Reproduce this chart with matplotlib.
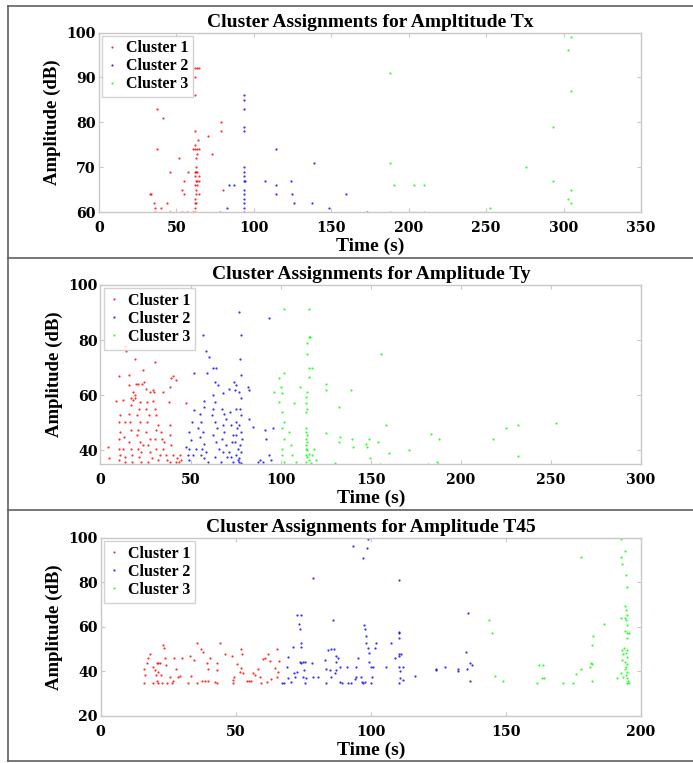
import matplotlib
matplotlib.use('Agg')
from matplotlib import pyplot as plt
from matplotlib.lines import Line2D

# ---- Tx ----
tx_c1_t = [33, 34, 35.7, 36.6, 36.4, 37.9, 37.9, 41.5, 40, 44, 45.8, 46, 51.9, 54, 55, 55, 53.5, 57.5, 57,
           60.9, 61.8, 62.2, 63.5, 64.4, 62.3, 61.8, 64, 62.3, 62.3, 63.5, 64.5, 63.7, 63, 62.5, 62.8, 61.8,
           63.7, 62.3, 65, 62.5, 63.3, 64.5, 62.3, 63.3, 62.5, 62.8, 65, 62.3, 62.5, 61.8, 62.2, 61, 62,
           70.6, 73, 78.8, 78.8, 80.3, 78.5]
tx_c1_a = [64, 64, 62, 61, 60, 83, 74, 81, 61, 62, 69, 60, 72, 65, 67, 64, 60, 69, 60,
           74, 90, 92, 92, 92, 86, 78, 76, 75, 74, 74, 74, 73, 72, 70, 69, 69,
           69, 68, 68, 67, 67, 67, 66, 66, 65, 64, 64, 63, 62, 62, 61, 60, 60,
           77, 73, 80, 78, 65, 60]
tx_c2_t = [83, 84, 87.4, 93.6, 93.6, 93.6, 93.6, 93.6, 93.6, 93.6, 93.6, 93.6, 94.5, 93.6, 93.6, 93.6, 93.6,
           93.6, 93.6, 107.2, 114.3, 114.3, 114.3, 124, 125, 126, 137.7, 138.8, 148.5, 159.7, 173.3]
tx_c2_a = [61, 66, 66, 86, 85, 83, 79, 78, 70, 69, 68, 67, 67, 65, 64, 63, 62,
           61, 60, 67, 74, 66, 64, 67, 64, 62, 62, 71, 61, 64, 60]
tx_c3_t = [188, 188, 188, 190.7, 203.4, 209.7, 209.7, 252.3, 276, 293.2, 293.2, 304.8, 302.9, 304.8, 305, 303, 305]
tx_c3_a = [91, 71, 60, 66, 66, 66, 60, 61, 70, 79, 67, 99, 96, 87, 65, 63, 62]

# ---- Ty ----
ty_c1_t = [4.3, 4.7, 8.6, 10.4, 10.8, 10.4, 11.1, 10.4, 10.0, 10.8, 10.4, 13.5, 13.9, 12.6, 13.4, 13.2, 12.6,
           13.4, 13.5, 15.9, 15.9, 16.7, 15.7, 16.3, 16.7, 15.9, 16.7, 17.6, 17.4, 17.2, 18.1, 19.1, 18.1,
           19.4, 19.4, 19.6, 20.9, 23.3, 24.0, 23.7, 21.8, 21.5, 20.2, 21.8, 20.9, 20.0, 21.8, 20.9, 22.7,
           23.7, 21.5, 22.7, 25.5, 27.3, 25.9, 25.5, 27.0, 25.9, 25.1, 27.3, 26.6, 27.3, 26.6, 28.5, 30.1,
           29.2, 29.7, 29.2, 30.1, 31.0, 32.0, 31.0, 30.1, 31.0, 32.9, 32.0, 34.9, 33.8, 34.3, 35.1, 34.7,
           36.2, 36.9, 38.4, 39.3, 40.2, 38.4, 38.0, 38.4, 38.8, 39.3, 40.2, 41.7, 42.5, 43.6, 41.7, 43.9,
           44.8, 47.2]
ty_c1_a = [41.2, 37.0, 57.8, 67.0, 52.7, 50.3, 46.7, 44.2, 40.6, 38.2, 36.4, 77.9, 76.0, 58.1, 50.3, 44.9, 40.6,
           37.6, 35.8, 67.3, 63.6, 56.4, 53.3, 50.3, 47.3, 43.0, 40.6, 38.2, 35.8, 58.8, 58.2, 60.0, 61.2,
           58.8, 73.0, 64.2, 63.9, 64.2, 64.9, 69.0, 57.6, 55.1, 52.7, 50.3, 47.3, 45.5, 43.0, 40.6, 39.4,
           41.8, 37.6, 35.8, 62.4, 61.2, 57.6, 55.1, 52.7, 50.3, 46.7, 44.2, 41.8, 39.4, 35.8, 37.0, 71.9,
           61.8, 61.2, 57.8, 55.1, 52.7, 49.1, 47.3, 44.2, 40.6, 38.2, 36.4, 61.0, 46.7, 44.2, 43.0, 40.6,
           38.2, 36.4, 35.8, 66.4, 67.0, 63.0, 57.6, 49.1, 45.5, 41.8, 38.2, 35.8, 37.2, 35.8, 65.5, 38.2,
           36.4, 57.0]
ty_c2_t = [47.6, 48.5, 49.4, 50.4, 49.4, 50.9, 51.8, 51.8, 56.8, 58.7, 60.1, 59.0, 57.2, 57.7, 55.0, 55.9,
           54.1, 56.8, 55.0, 57.7, 56.4, 58.7, 55.9, 57.7, 59.6, 53.1, 51.3, 49.4, 62.7, 64.2, 63.3, 65.1,
           62.3, 63.8, 62.7, 62.0, 63.3, 64.5, 62.7, 64.2, 66.0, 63.3, 66.9, 67.9, 67.5, 68.8, 69.7, 67.9,
           68.8, 67.5, 69.7, 68.2, 70.1, 71.2, 71.9, 72.5, 73.4, 73.0, 71.5, 72.5, 73.8, 74.3, 75.2, 74.5,
           75.2, 75.2, 75.6, 75.2, 74.9, 76.2, 75.2, 76.2, 76.7, 77.1, 77.6, 78.0, 78.0, 77.1, 78.0, 77.4,
           78.0, 77.1, 78.2, 78.5, 77.4, 78.2, 77.1, 78.0, 81.7, 82.2, 82.6, 84.8, 87.2, 88.5, 90.0, 91.4,
           91.8, 93.6, 93.6, 94.6, 96.0]
ty_c2_a = [41.2, 38.2, 40.6, 43.6, 46.7, 50.3, 54.5, 67.9, 81.8, 76.0, 73.9, 67.9, 57.8, 55.8, 53.3, 50.3,
           47.9, 46.7, 44.9, 42.4, 40.6, 39.4, 38.2, 37.0, 35.8, 40.6, 38.2, 36.4, 69.9, 69.9, 64.9, 63.6,
           60.0, 57.6, 55.1, 52.7, 50.3, 47.9, 45.5, 43.0, 40.6, 37.6, 35.8, 60.6, 55.1, 53.3, 51.5, 49.1,
           46.7, 44.2, 41.8, 39.4, 37.6, 62.4, 53.9, 49.1, 45.5, 43.0, 39.4, 37.6, 35.8, 64.9, 63.6, 61.8,
           55.1, 50.3, 47.9, 45.5, 43.0, 40.6, 38.2, 36.4, 35.8, 90.1, 73.0, 81.8, 67.3, 61.2, 58.8, 55.1,
           52.7, 49.1, 46.7, 44.2, 41.8, 39.4, 37.0, 35.2, 62.9, 61.8, 51.5, 48.5, 35.8, 36.4, 35.8, 47.3,
           44.2, 87.9, 38.2, 36.4, 47.9]
ty_c3_t = [101.6, 115.7, 114.8, 115.7, 116.3, 114.5, 115.7, 117.6, 101.6, 99.2, 100.1, 101.0, 96.4, 110.6,
           115.7, 114.8, 114.3, 113.9, 114.8, 114.3, 99.2, 100.6, 101.9, 101.0, 101.9, 100.6, 101.0, 101.9,
           107.5, 104.7, 105.6, 106.5, 108.4, 113.9, 114.3, 114.8, 113.9, 114.8, 114.3, 113.9, 114.8, 115.7,
           113.9, 114.8, 115.7, 113.9, 116.7, 118.5, 117.6, 119.4, 125.3, 125.0, 125.3, 130.1, 132.3, 133.2,
           132.3, 139.3, 139.7, 140.1, 147.1, 148.0, 149.3, 149.8, 154.1, 155.7, 158.7, 160.0, 155.3, 171.0,
           183.3, 187.9, 182.0, 186.6, 187.5, 217.6, 225.3, 231.8, 231.8, 252.9]
ty_c3_a = [91.2, 91.2, 78.8, 81.0, 81.0, 74.9, 69.7, 69.7, 67.9, 66.1, 63.0, 60.6, 61.0, 63.0,
           66.7, 61.2, 59.4, 57.0, 55.1, 53.9, 57.6, 53.9, 50.3, 47.9, 44.2, 40.6, 38.2, 35.8,
           57.0, 46.7, 41.8, 38.2, 35.8, 47.9, 46.7, 45.5, 44.2, 43.0, 41.8, 40.6, 40.0, 38.8,
           38.2, 37.6, 36.4, 35.8, 35.2, 40.6, 38.2, 36.4, 64.2, 61.8, 46.1, 35.2, 55.8, 44.9,
           43.0, 61.8, 44.2, 41.2, 42.4, 41.2, 44.2, 37.0, 43.0, 74.9, 49.1, 38.9, 35.0, 40.0,
           46.0, 44.0, 35.0, 35.9, 35.0, 44.0, 47.9, 49.0, 38.0, 50.0]

# ---- T45 ----
t45_c1_t = [16.0, 16.4, 16.0, 17.0, 17.6, 18.3, 19.5, 20.1, 20.7, 21.3, 22.0, 19.2, 20.7, 21.3, 22.6, 20.5,
            21.3, 22.2, 23.2, 23.4, 23.8, 24.2, 25.6, 26.9, 24.7, 26.3, 27.1, 27.9, 28.7, 29.3, 30.1, 33.0,
            33.6, 32.4, 35.5, 34.5, 35.7, 37.1, 38.0, 37.7, 38.6, 39.8, 39.2, 39.8, 40.4, 42.3, 42.9, 44.1,
            43.1, 42.9, 46.0, 48.8, 49.0, 49.0, 49.3, 50.3, 51.5, 52.1, 52.7, 52.1, 52.4, 54.0, 55.0, 55.8,
            56.4, 57.1, 58.3, 58.9, 59.5, 60.1, 60.8, 61.4, 62.0, 62.6, 63.2, 64.4, 65.1, 65.7, 65.3, 66.0]
t45_c1_a = [41.0, 38.4, 35.0, 43.7, 45.9, 47.9, 42.2, 40.7, 43.7, 44.0, 43.7, 35.0, 35.9, 35.0, 35.0, 38.4,
            39.9, 38.4, 51.9, 50.4, 45.9, 42.9, 37.7, 35.9, 35.0, 35.0, 46.2, 41.0, 37.7, 38.0, 45.9, 47.0,
            38.0, 35.0, 35.0, 45.2, 53.0, 50.1, 48.9, 35.9, 35.9, 35.9, 44.0, 41.0, 46.2, 35.4, 35.0, 53.0,
            44.0, 40.7, 47.9, 47.0, 36.2, 35.0, 37.7, 43.2, 39.9, 41.4, 39.2, 50.0, 47.9, 35.9, 35.9, 35.9,
            39.5, 38.4, 41.0, 37.7, 35.0, 45.5, 45.9, 35.4, 47.9, 44.9, 36.5, 41.4, 37.7, 39.9, 50.0, 44.9]
t45_c2_t = [67.3, 67.8, 68.8, 69.4, 69.4, 70.6, 71.2, 71.5, 71.8, 72.5, 72.5, 74.0, 73.4, 73.7, 74.3, 74.0,
            73.7, 74.3, 75.0, 75.5, 75.2, 75.0, 75.5, 76.1, 78.4, 78.6, 78.6, 80.5, 82.9, 83.5, 84.2, 84.8,
            85.4, 86.0, 86.2, 83.3, 85.4, 86.6, 87.2, 87.9, 87.2, 88.5, 87.2, 88.5, 89.5, 91.0, 91.5, 92.8,
            93.4, 94.0, 94.6, 95.2, 94.6, 97.1, 96.5, 96.8, 97.1, 97.7, 97.3, 97.7, 98.3, 98.9, 98.7, 98.3,
            98.9, 99.3, 99.5, 100.2, 100.5, 100.8, 100.2, 101.4, 102.0, 105.7, 107.6, 108.8, 110.6, 110.4,
            110.4, 110.4, 110.6, 111.0, 110.4, 110.4, 111.9, 110.8, 111.9, 110.8, 110.4, 116.4, 124.0, 124.2,
            127.3, 132.2, 132.2, 135.2, 135.5, 135.9, 136.8, 137.3, 136.8]
t45_c2_a = [35.0, 35.0, 42.2, 46.7, 36.9, 35.4, 51.2, 39.2, 37.7, 39.9, 65.4, 65.4, 61.4, 59.0, 53.0, 51.2,
            44.4, 44.0, 44.4, 44.4, 40.7, 37.7, 35.0, 36.9, 43.7, 37.7, 82.2, 37.7, 45.2, 41.0, 49.7, 40.7,
            50.0, 63.2, 50.0, 35.0, 37.7, 39.2, 47.0, 45.9, 44.4, 42.2, 40.7, 35.4, 35.0, 42.2, 35.0, 35.0,
            96.4, 36.5, 37.7, 45.9, 42.2, 91.2, 37.7, 35.4, 35.0, 35.4, 60.9, 59.0, 56.0, 99.4, 95.4, 52.7,
            50.4, 48.5, 44.4, 42.2, 37.7, 42.2, 35.0, 50.4, 52.7, 42.2, 53.0, 46.0, 81.1, 57.9,
            57.2, 55.2, 47.9, 47.9, 47.0, 42.2, 42.2, 40.0, 36.0, 37.0, 35.0, 38.0, 41.0, 40.5,
            42.2, 41.0, 40.3, 48.9, 41.0, 66.1, 43.9, 43.0, 35.9]
t45_c3_t = [143.7, 144.9, 145.8, 148.8, 161.4, 162.4, 163.9, 163.2, 164.2, 171.0, 175.0, 176.0, 177.7, 177.8,
            181.1, 181.5, 181.8, 181.8, 181.8, 182.3, 186.2, 191.1, 192.7, 192.7, 192.9, 192.7, 192.8, 193.2,
            193.0, 192.6, 193.5, 194.2, 194.4, 194.7, 194.2, 194.4, 194.7, 194.2, 194.4, 194.7, 194.2, 194.9,
            194.7, 195.4, 193.8, 194.7, 194.4, 194.8, 194.2, 194.7, 194.4, 194.2, 194.9, 194.4, 194.7, 195.1,
            194.7, 195.4]
t45_c3_a = [63.2, 57.2, 38.0, 35.9, 35.0, 42.9, 42.9, 36.9, 36.9, 35.0, 35.0, 38.9, 91.3, 41.0,
            42.2, 44.0, 43.2, 35.9, 51.9, 56.0, 61.2, 36.9, 99.4, 91.3, 88.3, 63.9, 49.7, 47.9,
            45.2, 39.2, 37.7, 94.3, 83.4, 78.1, 69.4, 67.6, 65.4, 63.9, 63.2, 60.9, 58.4, 57.2,
            55.2, 57.2, 50.4, 49.7, 48.2, 46.7, 44.4, 43.4, 42.2, 41.0, 39.9, 38.4, 36.9, 35.9,
            35.0, 35.0]

titles = ['Cluster Assignments for Ampltitude Tx',
          'Cluster Assignments for Amplitude Ty',
          'Cluster Assignments for Amplitude T45']
labels = ['Cluster 1', 'Cluster 2', 'Cluster 3']
colors = ['#ff0000', '#0000ff', '#00ff00']

panels = [
    [(tx_c1_t, tx_c1_a), (tx_c2_t, tx_c2_a), (tx_c3_t, tx_c3_a)],
    [(ty_c1_t, ty_c1_a), (ty_c2_t, ty_c2_a), (ty_c3_t, ty_c3_a)],
    [(t45_c1_t, t45_c1_a), (t45_c2_t, t45_c2_a), (t45_c3_t, t45_c3_a)],
]
xlims = [(0, 350), (0, 300), (0, 200)]
ylims = [(60, 100), (35, 100), (20, 100)]
yticks = [[60, 70, 80, 90, 100], [40, 60, 80, 100], [20, 40, 60, 80, 100]]

# axes boxes in figure fraction (left, bottom, width, height)
boxes = [(0.1425, 0.7221, 0.7825, 0.2353),
         (0.1450, 0.3919, 0.7800, 0.2346),
         (0.1452, 0.0616, 0.7798, 0.2333)]

serif = 'Liberation Serif'

fig = plt.figure(figsize=(6.93, 7.63), dpi=100)

for i in range(3):
    ax = fig.add_axes(boxes[i])
    for (t, a), lab, c in zip(panels[i], labels, colors):
        ax.plot(t, a, '.', color=c, ms=3.2, mew=0, alpha=0.8, label=lab)
    ax.set_xlim(*xlims[i])
    ax.set_ylim(*ylims[i])
    ax.set_xticks(range(xlims[i][0], xlims[i][1] + 1, 50))
    ax.set_yticks(yticks[i])
    for s in ax.spines.values():
        s.set_color('#c8c8c8')
        s.set_linewidth(1.0)
    ax.tick_params(direction='in', top=True, right=True, color='#c8c8c8', length=3, labelcolor='black')
    ax.tick_params(axis='x', pad=6.5)
    ax.tick_params(axis='y', pad=2)
    for lbl in ax.get_xticklabels() + ax.get_yticklabels():
        lbl.set_fontfamily('DejaVu Serif')
        lbl.set_fontweight('bold')
        lbl.set_fontsize(10.2)
    ax.set_title(titles[i], pad=4, family=serif, weight='bold', size=14)
    ax.set_xlabel('Time (s)', labelpad=2, family=serif, weight='bold', size=14)
    ax.set_ylabel('Amplitude (dB)', labelpad=4, family=serif, weight='bold', size=13.5)
    leg = ax.legend(loc='upper left', fancybox=False, edgecolor='#c8c8c8', markerscale=1.0,
                    handlelength=0.7, handletextpad=0.5, borderaxespad=0.2, labelspacing=0.12,
                    borderpad=0.3, prop=dict(family=serif, weight='bold', size=11.5))
    leg.get_frame().set_linewidth(1.0)

# panel frames
H = 763.0
W = 693.0
for y in [6, 258.5, 510, 761]:
    fig.add_artist(Line2D([8 / W, 1], [1 - y / H, 1 - y / H], color='#606060', lw=1.2))
fig.add_artist(Line2D([8 / W, 8 / W], [1 - 6 / H, 1 - 761 / H], color='#606060', lw=1.2))

plt.savefig('out.png', dpi=100)
